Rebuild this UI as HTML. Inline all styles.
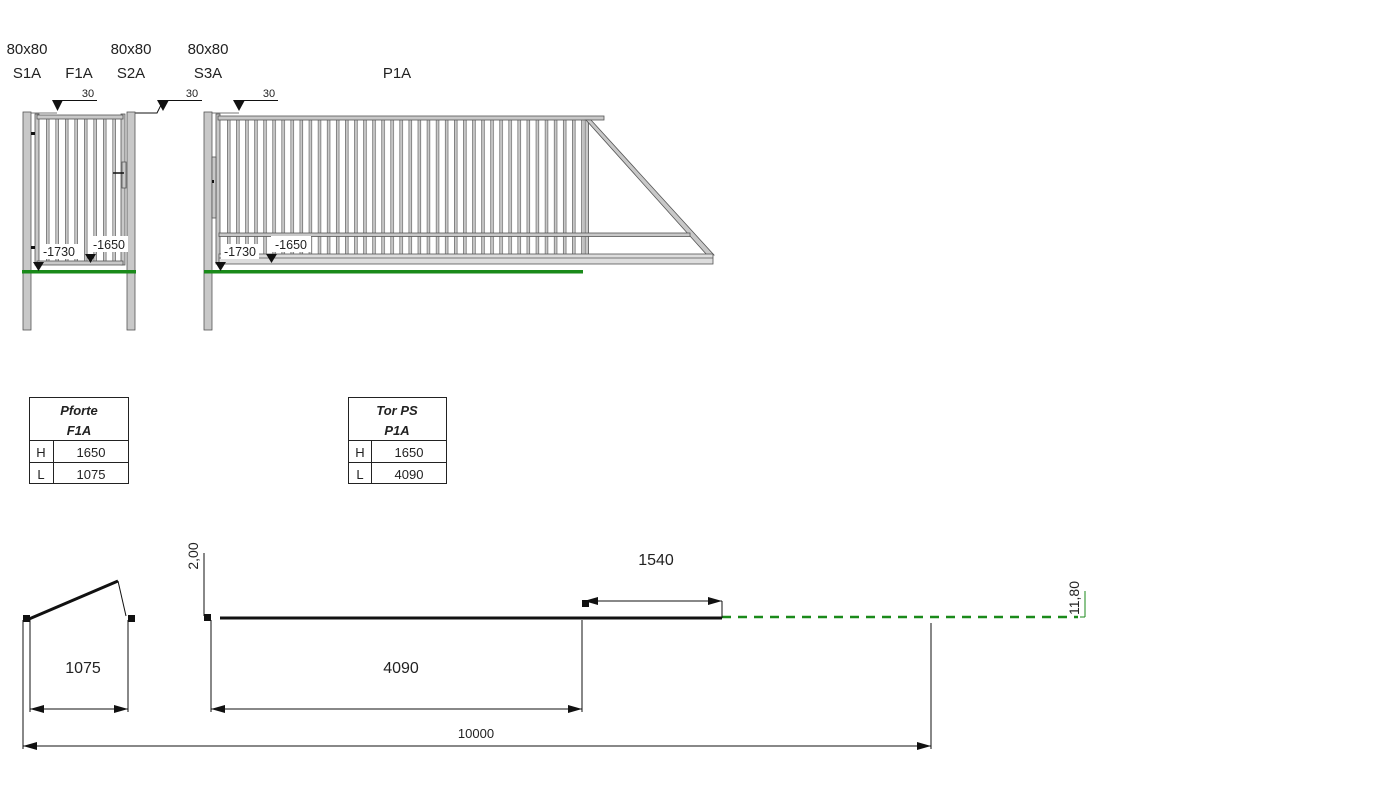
<!DOCTYPE html>
<html><head><meta charset="utf-8"><style>
html,body{margin:0;padding:0;background:#fff;}
svg{display:block;}
text{font-family:"Liberation Sans",sans-serif;fill:#222;}
</style></head><body>
<svg width="1387" height="787" viewBox="0 0 1387 787" xmlns="http://www.w3.org/2000/svg">
<defs>
<pattern id="pk" x="227" y="0" width="9.08" height="10" patternUnits="userSpaceOnUse">
<rect x="0" y="0" width="3.4" height="10" fill="#c8c8c8"/>
<line x1="0.3" y1="0" x2="0.3" y2="10" stroke="#555" stroke-width="0.6"/>
<line x1="3.1" y1="0" x2="3.1" y2="10" stroke="#555" stroke-width="0.6"/>
</pattern>
<pattern id="pk1" x="46" y="0" width="9.5" height="10" patternUnits="userSpaceOnUse">
<rect x="0" y="0" width="3.4" height="10" fill="#c8c8c8"/>
<line x1="0.3" y1="0" x2="0.3" y2="10" stroke="#555" stroke-width="0.6"/>
<line x1="3.1" y1="0" x2="3.1" y2="10" stroke="#555" stroke-width="0.6"/>
</pattern>
<marker id="ar" markerWidth="14" markerHeight="8" refX="14" refY="4" orient="auto" markerUnits="userSpaceOnUse">
<path d="M0,0 L14,4 L0,8 Z" fill="#111"/></marker>
<marker id="al" markerWidth="14" markerHeight="8" refX="0" refY="4" orient="auto" markerUnits="userSpaceOnUse">
<path d="M14,0 L0,4 L14,8 Z" fill="#111"/></marker>
</defs>

<g font-size="15" text-anchor="middle">
<text x="27" y="54">80x80</text><text x="27" y="78">S1A</text>
<text x="79" y="78">F1A</text>
<text x="131" y="54">80x80</text><text x="131" y="78">S2A</text>
<text x="208" y="54">80x80</text><text x="208" y="78">S3A</text>
<text x="397" y="78">P1A</text>
</g>

<g stroke="#111" stroke-width="1" fill="none">
<line x1="57" y1="100.5" x2="97" y2="100.5"/>
<line x1="163" y1="100.5" x2="202" y2="100.5"/>
<polyline points="135,113 157,113 163,101"/>
<line x1="239" y1="100.5" x2="278" y2="100.5"/>
<line x1="23" y1="113" x2="57" y2="113" stroke="#777"/>
<line x1="204" y1="113" x2="239" y2="113" stroke="#777"/>
</g>
<g fill="#111">
<path d="M52,100 L63,100 L57.5,111 Z"/>
<path d="M157,100 L169,100 L163,111 Z"/>
<path d="M233,100 L245,100 L239,111 Z"/>
</g>
<g font-size="11" text-anchor="middle">
<text x="88" y="97">30</text><text x="192" y="97">30</text><text x="269" y="97">30</text>
</g>

<g stroke="#555" stroke-width="0.8">
<rect x="23" y="112" width="8" height="218" fill="#c8c8c8"/>
<rect x="127" y="112" width="8" height="218" fill="#c8c8c8"/>
<rect x="46" y="119" width="72" height="144" fill="url(#pk1)" stroke="none"/>
<rect x="35" y="114" width="4" height="151" fill="#c8c8c8"/>
<rect x="121" y="114" width="4" height="151" fill="#c8c8c8"/>
<rect x="37" y="115" width="86" height="4" fill="#c8c8c8"/>
<rect x="37" y="261" width="86" height="4" fill="#c8c8c8"/>
<rect x="122" y="162" width="4" height="26" fill="#c8c8c8"/>
</g>
<line x1="113" y1="173" x2="124" y2="173" stroke="#111" stroke-width="1.5"/>
<rect x="31" y="132" width="4" height="3" fill="#111"/>
<rect x="31" y="246" width="4" height="3" fill="#111"/>
<rect x="22" y="270" width="114" height="3.5" fill="#1a8a1a"/>
<rect x="40" y="244" width="38" height="15" fill="#fff"/>
<rect x="90" y="236" width="38" height="16" fill="#fff"/>
<g font-size="12.5" text-anchor="middle">
<text x="59" y="256">-1730</text><text x="109" y="249">-1650</text>
</g>
<path d="M33,262 L44,262 L38.5,271 Z" fill="#111"/>
<path d="M85,254 L96,254 L90.5,263 Z" fill="#111"/>

<g stroke="#555" stroke-width="0.8">
<rect x="204" y="112" width="8" height="218" fill="#c8c8c8"/>
<rect x="227" y="120" width="357" height="135" fill="url(#pk)" stroke="none"/>
<rect x="216" y="114" width="4" height="150" fill="#c8c8c8"/>
<rect x="218" y="116" width="386" height="4" fill="#c8c8c8"/>
<rect x="585" y="120" width="3.5" height="135" fill="#c8c8c8"/>
<polygon points="586,120 591,120 714,255 707,255" fill="#c8c8c8"/>
<rect x="219" y="233" width="471" height="3.5" fill="#c8c8c8"/>
<rect x="219" y="254" width="494" height="10" fill="#ddd"/>
<line x1="219" y1="258" x2="713" y2="258"/>
<rect x="212" y="157" width="4" height="61" fill="#c8c8c8"/>
</g>
<rect x="212" y="180" width="2" height="3" fill="#111"/>
<rect x="204" y="270" width="379" height="3.5" fill="#1a8a1a"/>
<rect x="221" y="244" width="38" height="15" fill="#fff"/>
<rect x="271" y="236" width="40" height="16" fill="#fff"/>
<g font-size="12.5" text-anchor="middle">
<text x="240" y="256">-1730</text><text x="291" y="249">-1650</text>
</g>
<path d="M215,262 L226,262 L220.5,271 Z" fill="#111"/>
<path d="M266,254 L277,254 L271.5,263 Z" fill="#111"/>

<g stroke="#222" stroke-width="1" fill="none">
<rect x="29.5" y="397.5" width="99" height="86"/>
<line x1="29.5" y1="440.5" x2="128.5" y2="440.5"/>
<line x1="29.5" y1="462.5" x2="128.5" y2="462.5"/>
<line x1="53.5" y1="440.5" x2="53.5" y2="483.5"/>
<rect x="348.5" y="397.5" width="98" height="86"/>
<line x1="348.5" y1="440.5" x2="446.5" y2="440.5"/>
<line x1="348.5" y1="462.5" x2="446.5" y2="462.5"/>
<line x1="371.5" y1="440.5" x2="371.5" y2="483.5"/>
</g>
<g font-size="13" text-anchor="middle">
<text x="79" y="415" font-weight="bold" font-style="italic">Pforte</text>
<text x="79" y="435" font-weight="bold" font-style="italic">F1A</text>
<text x="41" y="457">H</text><text x="91" y="457">1650</text>
<text x="41" y="479">L</text><text x="91" y="479">1075</text>
<text x="397" y="415" font-weight="bold" font-style="italic">Tor PS</text>
<text x="397" y="435" font-weight="bold" font-style="italic">P1A</text>
<text x="360" y="457">H</text><text x="409" y="457">1650</text>
<text x="360" y="479">L</text><text x="409" y="479">4090</text>
</g>

<g fill="#111">
<rect x="23" y="615" width="7" height="7"/>
<rect x="128" y="615" width="7" height="7"/>
<rect x="204" y="614" width="7" height="7"/>
<rect x="582" y="600" width="7" height="7"/>
</g>
<line x1="29" y1="619" x2="118" y2="581" stroke="#111" stroke-width="3"/>
<line x1="118" y1="581" x2="126" y2="616" stroke="#111" stroke-width="1"/>
<line x1="220" y1="618" x2="722" y2="618" stroke="#111" stroke-width="3"/>
<line x1="722" y1="617" x2="1078" y2="617" stroke="#1a8a1a" stroke-width="2.5" stroke-dasharray="9,7"/>
<line x1="1085" y1="591" x2="1085" y2="617" stroke="#1a8a1a" stroke-width="1"/>
<line x1="1080" y1="617" x2="1085" y2="617" stroke="#1a8a1a" stroke-width="1"/>
<g stroke="#111" stroke-width="1" fill="none">
<line x1="30" y1="620" x2="30" y2="712"/>
<line x1="128" y1="620" x2="128" y2="712"/>
<line x1="30" y1="709" x2="128" y2="709" marker-start="url(#al)" marker-end="url(#ar)"/>
<line x1="23" y1="620" x2="23" y2="749"/>
<line x1="931" y1="623" x2="931" y2="749"/>
<line x1="23" y1="746" x2="931" y2="746" marker-start="url(#al)" marker-end="url(#ar)"/>
<line x1="204" y1="553" x2="204" y2="616"/>
<line x1="211" y1="620" x2="211" y2="712"/>
<line x1="582" y1="620" x2="582" y2="712"/>
<line x1="211" y1="709" x2="582" y2="709" marker-start="url(#al)" marker-end="url(#ar)"/>
<line x1="584" y1="601" x2="722" y2="601" marker-start="url(#al)" marker-end="url(#ar)"/>
<line x1="722" y1="601" x2="722" y2="618"/>
</g>
<g font-size="16" text-anchor="middle">
<text x="83" y="673">1075</text>
<text x="401" y="673">4090</text>
<text x="656" y="565">1540</text>
</g>
<text x="476" y="738" font-size="13" text-anchor="middle">10000</text>
<text transform="translate(198,556) rotate(-90)" font-size="14" text-anchor="middle">2,00</text>
<text transform="translate(1079,598) rotate(-90)" font-size="14" text-anchor="middle">11,80</text>
</svg>
</body></html>
